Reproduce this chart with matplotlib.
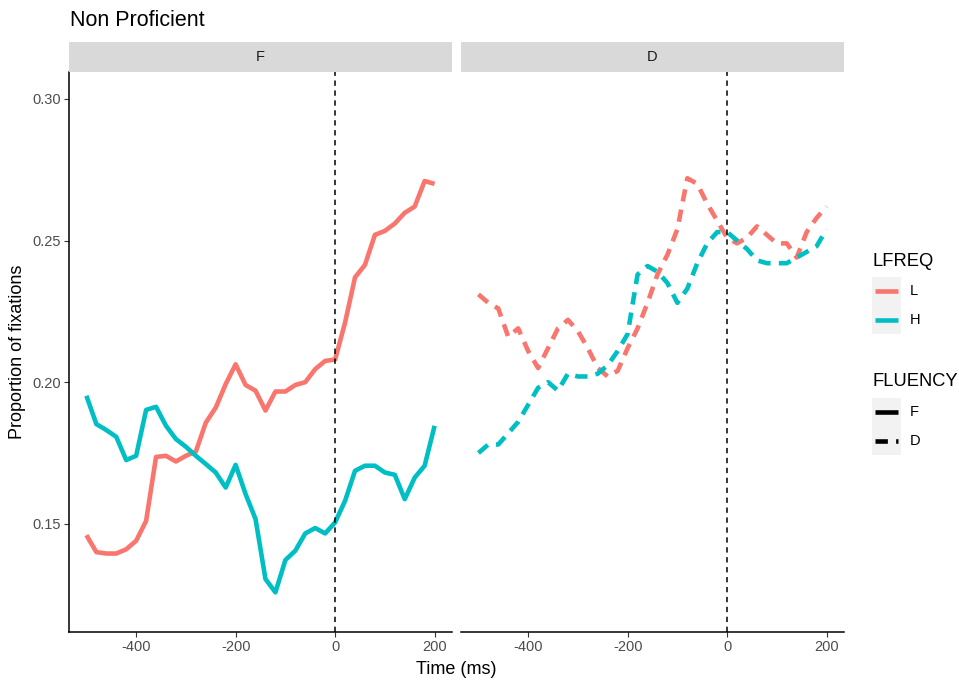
import numpy as np
import matplotlib.pyplot as plt

plt.rcParams['font.family'] = ['Liberation Sans', 'DejaVu Sans']
plt.rcParams['axes.unicode_minus'] = False

time_ms = [-500, -480, -460, -440, -420, -400, -380, -360, -340, -320, -300, -280,
           -260, -240, -220, -200, -180, -160, -140, -120, -100, -80, -60, -40,
           -20, 0, 20, 40, 60, 80, 100, 120, 140, 160, 180, 200]

# fluency F panel
f_low = [0.146, 0.140, 0.1395, 0.1395, 0.141, 0.144, 0.151, 0.1736, 0.174, 0.172, 0.174, 0.1755,
         0.1857, 0.191, 0.1993, 0.2063, 0.199, 0.197, 0.190, 0.1967, 0.1967, 0.199, 0.200, 0.2046,
         0.2075, 0.208, 0.221, 0.237, 0.2414, 0.252, 0.2534, 0.256, 0.2598, 0.262, 0.271, 0.270]
f_high = [0.1952, 0.1852, 0.1831, 0.1807, 0.1725, 0.1740, 0.1902, 0.1913, 0.1846, 0.1799, 0.1772, 0.1740,
          0.1711, 0.1681, 0.1628, 0.1708, 0.1605, 0.1517, 0.1305, 0.1258, 0.1372, 0.1405, 0.1466, 0.1485,
          0.1466, 0.1505, 0.1581, 0.1687, 0.1705, 0.1705, 0.1681, 0.1673, 0.1587, 0.1663, 0.1705, 0.1846]

# fluency D panel
d_low = [0.231, 0.228, 0.226, 0.216, 0.219, 0.211, 0.205, 0.212, 0.219, 0.222, 0.218, 0.212,
         0.205, 0.202, 0.204, 0.212, 0.219, 0.228, 0.238, 0.245, 0.254, 0.272, 0.270, 0.263,
         0.257, 0.251, 0.249, 0.251, 0.255, 0.252, 0.249, 0.249, 0.244, 0.253, 0.258, 0.262]
d_high = [0.175, 0.178, 0.178, 0.182, 0.186, 0.192, 0.198, 0.200, 0.197, 0.203, 0.202, 0.202,
          0.203, 0.206, 0.211, 0.217, 0.238, 0.241, 0.239, 0.235, 0.228, 0.233, 0.242, 0.249,
          0.253, 0.253, 0.250, 0.247, 0.243, 0.242, 0.242, 0.242, 0.244, 0.246, 0.248, 0.254]

red = '#F8766D'
cyan = '#00BFC4'
lw = 3.3

fig = plt.figure(figsize=(9.59, 6.81), dpi=100)

W, H = 959, 681
def box(x0, y0, x1, y1):
    return [x0 / W, 1 - y1 / H, (x1 - x0) / W, (y1 - y0) / H]

panels = [
    ('F', box(69, 72, 452, 632), f_low, f_high, '-'),
    ('D', box(461, 72, 844, 632), d_low, d_high, '--'),
]

for i, (name, rect, low, high, ls) in enumerate(panels):
    ax = fig.add_axes(rect)
    for vals, col in [(low, red), (high, cyan)]:
        line, = ax.plot(time_ms, vals, color=col, lw=lw, ls=ls,
                        solid_capstyle='butt', dash_capstyle='butt',
                        solid_joinstyle='round')
        if ls == '--':
            line.set_dashes((2.7, 1.8))
    ax.axvline(0, color='black', lw=1.1, ls=(0, (3.5, 3)))
    ax.set_xlim(-535, 235)
    ax.set_ylim(0.1118, 0.3095)
    ax.set_xticks([-400, -200, 0, 200])
    ax.set_yticks([0.15, 0.20, 0.25, 0.30])
    ax.set_yticklabels(['0.15', '0.20', '0.25', '0.30'])
    for s in ['top', 'right']:
        ax.spines[s].set_visible(False)
    ax.spines['bottom'].set_linewidth(1.1)
    ax.spines['left'].set_linewidth(1.1)
    ax.tick_params(length=3.5, width=0.8, color='#333333', labelcolor='#4D4D4D',
                   labelsize=10.5, pad=2.5)
    if i == 1:
        ax.spines['left'].set_visible(False)
        ax.tick_params(axis='y', left=False, labelleft=False)

    # facet strip
    sx = fig.add_axes(box(rect[0] * W, 42, (rect[0] + rect[2]) * W, 72))
    sx.set_facecolor('#D9D9D9')
    sx.set_xticks([])
    sx.set_yticks([])
    for s in sx.spines.values():
        s.set_visible(False)
    sx.text(0.5, 0.5, name, ha='center', va='center', fontsize=10.5, color='#1A1A1A')

fig.text(70 / W, 1 - 20 / H, 'Non Proficient', fontsize=15.5, ha='left', va='center',
         color='black')
fig.text(456 / W, 1 - 669 / H, 'Time (ms)', fontsize=13, ha='center', va='center')
fig.text(18 / W, 1 - 352 / H, 'Proportion of fixations', fontsize=13, rotation=90,
         ha='center', va='center')

# legends
def legend(title, title_y, key_top, entries):
    fig.text(872 / W, 1 - title_y / H, title, fontsize=13.2, ha='left', va='center')
    kx = fig.add_axes(box(872, key_top, 901, key_top + 57))
    kx.set_facecolor('#F2F2F2')
    kx.set_xlim(0, 1)
    kx.set_ylim(0, 2)
    kx.set_xticks([])
    kx.set_yticks([])
    for s in kx.spines.values():
        s.set_visible(False)
    for j, (label, col, ls) in enumerate(entries):
        yc = 1.5 - j
        line, = kx.plot([0.1, 0.9], [yc, yc], color=col, lw=lw,
                        solid_capstyle='butt', dash_capstyle='butt')
        if ls == '--':
            line.set_dashes((2.7, 1.8))
        fig.text(910 / W, 1 - (key_top + 14.2 + 28.5 * j) / H, label, fontsize=10.5,
                 ha='left', va='center')

legend('LFREQ', 261, 277, [('L', red, '-'), ('H', cyan, '-')])
legend('FLUENCY', 382, 398, [('F', 'black', '-'), ('D', 'black', '--')])

fig.savefig('out.png', dpi=100)
